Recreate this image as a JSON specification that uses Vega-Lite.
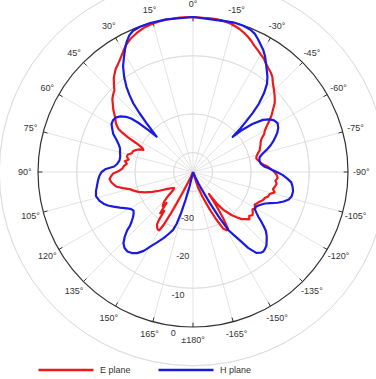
{
  "$schema": "https://vega.github.io/schema/vega-lite/v6.json",
  "width": 376,
  "height": 379,
  "padding": 0,
  "autosize": {"type": "none"},
  "background": "white",
  "config": {"view": {"stroke": null}, "font": "Liberation Sans"},
  "datasets": {
    "rings": [{"dB": -35}, {"dB": -30}, {"dB": -25}, {"dB": -20}, {"dB": -15}, {"dB": -10}, {"dB": -5}],
    "outer": [{"dB": 0}],
    "spokes": [{"angle": 0}, {"angle": 15}, {"angle": 30}, {"angle": 45}, {"angle": 60}, {"angle": 75}, {"angle": 90}, {"angle": 105}, {"angle": 120}, {"angle": 135}, {"angle": 150}, {"angle": 165}, {"angle": 180}, {"angle": -165}, {"angle": -150}, {"angle": -135}, {"angle": -120}, {"angle": -105}, {"angle": -90}, {"angle": -75}, {"angle": -60}, {"angle": -45}, {"angle": -30}, {"angle": -15}],
    "angleLabels": [
      {"angle": 0, "label": "0°"}, {"angle": 15, "label": "15°"}, {"angle": 30, "label": "30°"}, {"angle": 45, "label": "45°"}, {"angle": 60, "label": "60°"}, {"angle": 75, "label": "75°"}, {"angle": 90, "label": "90°"}, {"angle": 105, "label": "105°"}, {"angle": 120, "label": "120°"}, {"angle": 135, "label": "135°"}, {"angle": 150, "label": "150°"}, {"angle": 165, "label": "165°"}, {"angle": 180, "label": "±180°"}, {"angle": -165, "label": "-165°"}, {"angle": -150, "label": "-150°"}, {"angle": -135, "label": "-135°"}, {"angle": -120, "label": "-120°"}, {"angle": -105, "label": "-105°"}, {"angle": -90, "label": "-90°"}, {"angle": -75, "label": "-75°"}, {"angle": -60, "label": "-60°"}, {"angle": -45, "label": "-45°"}, {"angle": -30, "label": "-30°"}, {"angle": -15, "label": "-15°"}
    ],
    "radialLabels": [{"dB": 0, "label": "0"}, {"dB": -10, "label": "-10"}, {"dB": -20, "label": "-20"}, {"dB": -30, "label": "-30"}],
    "pattern": [
      {"plane": "E plane", "angle": -180, "dB": -40},
      {"plane": "E plane", "angle": -172, "dB": -40},
      {"plane": "E plane", "angle": -166, "dB": -39.5},
      {"plane": "E plane", "angle": -162, "dB": -36},
      {"plane": "E plane", "angle": -159, "dB": -33},
      {"plane": "E plane", "angle": -156, "dB": -29.5},
      {"plane": "E plane", "angle": -154, "dB": -26.5},
      {"plane": "E plane", "angle": -152, "dB": -23.5},
      {"plane": "E plane", "angle": -150, "dB": -22.6},
      {"plane": "E plane", "angle": -148.3, "dB": -22.8},
      {"plane": "E plane", "angle": -147, "dB": -25.5},
      {"plane": "E plane", "angle": -146, "dB": -28},
      {"plane": "E plane", "angle": -145, "dB": -30.5},
      {"plane": "E plane", "angle": -144, "dB": -33},
      {"plane": "E plane", "angle": -143, "dB": -30},
      {"plane": "E plane", "angle": -142, "dB": -28.5},
      {"plane": "E plane", "angle": -141, "dB": -27.2},
      {"plane": "E plane", "angle": -140, "dB": -26.6},
      {"plane": "E plane", "angle": -138, "dB": -25},
      {"plane": "E plane", "angle": -136, "dB": -23.8},
      {"plane": "E plane", "angle": -134, "dB": -22.5},
      {"plane": "E plane", "angle": -132, "dB": -21.8},
      {"plane": "E plane", "angle": -130, "dB": -21},
      {"plane": "E plane", "angle": -128, "dB": -21.6},
      {"plane": "E plane", "angle": -126, "dB": -21},
      {"plane": "E plane", "angle": -124, "dB": -21.4},
      {"plane": "E plane", "angle": -122, "dB": -21.9},
      {"plane": "E plane", "angle": -120, "dB": -21.4},
      {"plane": "E plane", "angle": -118, "dB": -22},
      {"plane": "E plane", "angle": -116, "dB": -21.6},
      {"plane": "E plane", "angle": -114, "dB": -21.2},
      {"plane": "E plane", "angle": -112, "dB": -20.6},
      {"plane": "E plane", "angle": -110, "dB": -20.3},
      {"plane": "E plane", "angle": -108, "dB": -19.6},
      {"plane": "E plane", "angle": -106, "dB": -19.4},
      {"plane": "E plane", "angle": -104, "dB": -18.3},
      {"plane": "E plane", "angle": -102, "dB": -18.9},
      {"plane": "E plane", "angle": -100, "dB": -18.5},
      {"plane": "E plane", "angle": -98, "dB": -18.2},
      {"plane": "E plane", "angle": -96, "dB": -18.6},
      {"plane": "E plane", "angle": -94, "dB": -18.1},
      {"plane": "E plane", "angle": -92, "dB": -18.4},
      {"plane": "E plane", "angle": -90, "dB": -19},
      {"plane": "E plane", "angle": -88, "dB": -19.8},
      {"plane": "E plane", "angle": -86, "dB": -20.6},
      {"plane": "E plane", "angle": -84, "dB": -21.8},
      {"plane": "E plane", "angle": -82, "dB": -22.4},
      {"plane": "E plane", "angle": -80, "dB": -22.9},
      {"plane": "E plane", "angle": -78, "dB": -23.3},
      {"plane": "E plane", "angle": -76, "dB": -23.1},
      {"plane": "E plane", "angle": -74, "dB": -22.6},
      {"plane": "E plane", "angle": -72, "dB": -21.9},
      {"plane": "E plane", "angle": -70, "dB": -21.6},
      {"plane": "E plane", "angle": -68, "dB": -21.2},
      {"plane": "E plane", "angle": -66, "dB": -20.9},
      {"plane": "E plane", "angle": -64, "dB": -20.3},
      {"plane": "E plane", "angle": -62, "dB": -19.2},
      {"plane": "E plane", "angle": -60, "dB": -18.6},
      {"plane": "E plane", "angle": -58, "dB": -17.5},
      {"plane": "E plane", "angle": -56, "dB": -16.2},
      {"plane": "E plane", "angle": -54, "dB": -14.9},
      {"plane": "E plane", "angle": -52, "dB": -13.8},
      {"plane": "E plane", "angle": -50, "dB": -12.5},
      {"plane": "E plane", "angle": -48, "dB": -11.6},
      {"plane": "E plane", "angle": -46, "dB": -10.8},
      {"plane": "E plane", "angle": -44, "dB": -10},
      {"plane": "E plane", "angle": -42, "dB": -9.2},
      {"plane": "E plane", "angle": -40, "dB": -8.1},
      {"plane": "E plane", "angle": -38, "dB": -7.4},
      {"plane": "E plane", "angle": -36, "dB": -6.9},
      {"plane": "E plane", "angle": -34, "dB": -6.3},
      {"plane": "E plane", "angle": -32, "dB": -5.5},
      {"plane": "E plane", "angle": -30, "dB": -5},
      {"plane": "E plane", "angle": -28, "dB": -4.4},
      {"plane": "E plane", "angle": -26, "dB": -3.8},
      {"plane": "E plane", "angle": -24, "dB": -3},
      {"plane": "E plane", "angle": -22, "dB": -2.3},
      {"plane": "E plane", "angle": -20, "dB": -1.7},
      {"plane": "E plane", "angle": -18, "dB": -1.2},
      {"plane": "E plane", "angle": -15, "dB": -0.6},
      {"plane": "E plane", "angle": -12, "dB": -0.3},
      {"plane": "E plane", "angle": -8, "dB": -0.1},
      {"plane": "E plane", "angle": 0, "dB": 0},
      {"plane": "E plane", "angle": 5, "dB": 0},
      {"plane": "E plane", "angle": 10, "dB": -0.1},
      {"plane": "E plane", "angle": 13, "dB": -0.2},
      {"plane": "E plane", "angle": 16, "dB": -0.4},
      {"plane": "E plane", "angle": 19, "dB": -0.7},
      {"plane": "E plane", "angle": 22, "dB": -1.3},
      {"plane": "E plane", "angle": 25, "dB": -2},
      {"plane": "E plane", "angle": 28, "dB": -3},
      {"plane": "E plane", "angle": 31, "dB": -4.5},
      {"plane": "E plane", "angle": 34, "dB": -5.8},
      {"plane": "E plane", "angle": 37, "dB": -6.8},
      {"plane": "E plane", "angle": 40, "dB": -8.2},
      {"plane": "E plane", "angle": 42, "dB": -9.5},
      {"plane": "E plane", "angle": 44, "dB": -10.8},
      {"plane": "E plane", "angle": 46, "dB": -11.3},
      {"plane": "E plane", "angle": 48, "dB": -12},
      {"plane": "E plane", "angle": 50, "dB": -13},
      {"plane": "E plane", "angle": 52, "dB": -13.9},
      {"plane": "E plane", "angle": 54, "dB": -15},
      {"plane": "E plane", "angle": 56, "dB": -15.8},
      {"plane": "E plane", "angle": 58, "dB": -16.6},
      {"plane": "E plane", "angle": 60, "dB": -17.8},
      {"plane": "E plane", "angle": 61, "dB": -19.2},
      {"plane": "E plane", "angle": 62, "dB": -21},
      {"plane": "E plane", "angle": 63, "dB": -23.5},
      {"plane": "E plane", "angle": 64.5, "dB": -25.5},
      {"plane": "E plane", "angle": 66, "dB": -26},
      {"plane": "E plane", "angle": 67.5, "dB": -24.8},
      {"plane": "E plane", "angle": 69, "dB": -24.2},
      {"plane": "E plane", "angle": 71, "dB": -23.6},
      {"plane": "E plane", "angle": 73, "dB": -23.5},
      {"plane": "E plane", "angle": 75, "dB": -22.6},
      {"plane": "E plane", "angle": 77, "dB": -22.5},
      {"plane": "E plane", "angle": 79, "dB": -23.1},
      {"plane": "E plane", "angle": 81, "dB": -22.2},
      {"plane": "E plane", "angle": 83, "dB": -22.8},
      {"plane": "E plane", "angle": 85, "dB": -22.1},
      {"plane": "E plane", "angle": 87, "dB": -21.8},
      {"plane": "E plane", "angle": 89, "dB": -21},
      {"plane": "E plane", "angle": 91, "dB": -19.4},
      {"plane": "E plane", "angle": 93, "dB": -18.8},
      {"plane": "E plane", "angle": 95, "dB": -18.4},
      {"plane": "E plane", "angle": 97, "dB": -18.7},
      {"plane": "E plane", "angle": 99, "dB": -19.3},
      {"plane": "E plane", "angle": 101, "dB": -20},
      {"plane": "E plane", "angle": 103, "dB": -21.5},
      {"plane": "E plane", "angle": 105, "dB": -23},
      {"plane": "E plane", "angle": 107, "dB": -23.8},
      {"plane": "E plane", "angle": 110, "dB": -25},
      {"plane": "E plane", "angle": 113, "dB": -26.5},
      {"plane": "E plane", "angle": 116, "dB": -28.3},
      {"plane": "E plane", "angle": 119, "dB": -30},
      {"plane": "E plane", "angle": 122, "dB": -31.5},
      {"plane": "E plane", "angle": 125, "dB": -32.5},
      {"plane": "E plane", "angle": 128, "dB": -33.3},
      {"plane": "E plane", "angle": 130.5, "dB": -33.6},
      {"plane": "E plane", "angle": 132.5, "dB": -33},
      {"plane": "E plane", "angle": 134, "dB": -31},
      {"plane": "E plane", "angle": 135.5, "dB": -29.5},
      {"plane": "E plane", "angle": 137, "dB": -28.8},
      {"plane": "E plane", "angle": 138.5, "dB": -28.2},
      {"plane": "E plane", "angle": 139.5, "dB": -29.5},
      {"plane": "E plane", "angle": 140.5, "dB": -28},
      {"plane": "E plane", "angle": 141.5, "dB": -26.4},
      {"plane": "E plane", "angle": 142.5, "dB": -26.8},
      {"plane": "E plane", "angle": 143.5, "dB": -27.5},
      {"plane": "E plane", "angle": 144.5, "dB": -25},
      {"plane": "E plane", "angle": 145.5, "dB": -23.6},
      {"plane": "E plane", "angle": 147, "dB": -23},
      {"plane": "E plane", "angle": 148.5, "dB": -22.6},
      {"plane": "E plane", "angle": 150, "dB": -22.6},
      {"plane": "E plane", "angle": 151, "dB": -24.5},
      {"plane": "E plane", "angle": 151.8, "dB": -27.5},
      {"plane": "E plane", "angle": 152.5, "dB": -30.5},
      {"plane": "E plane", "angle": 153.5, "dB": -34},
      {"plane": "E plane", "angle": 155, "dB": -37},
      {"plane": "E plane", "angle": 158, "dB": -39},
      {"plane": "E plane", "angle": 162, "dB": -40},
      {"plane": "E plane", "angle": 170, "dB": -40},
      {"plane": "E plane", "angle": 180, "dB": -40},
      {"plane": "H plane", "angle": -180, "dB": -40},
      {"plane": "H plane", "angle": -170, "dB": -40},
      {"plane": "H plane", "angle": -162, "dB": -40},
      {"plane": "H plane", "angle": -158, "dB": -40},
      {"plane": "H plane", "angle": -156, "dB": -38.5},
      {"plane": "H plane", "angle": -154.5, "dB": -36.5},
      {"plane": "H plane", "angle": -153, "dB": -34.5},
      {"plane": "H plane", "angle": -151.5, "dB": -30.8},
      {"plane": "H plane", "angle": -150, "dB": -26.5},
      {"plane": "H plane", "angle": -148.7, "dB": -22.5},
      {"plane": "H plane", "angle": -147, "dB": -20.5},
      {"plane": "H plane", "angle": -145.5, "dB": -18.5},
      {"plane": "H plane", "angle": -144, "dB": -15.8},
      {"plane": "H plane", "angle": -142, "dB": -13.5},
      {"plane": "H plane", "angle": -140, "dB": -12.8},
      {"plane": "H plane", "angle": -138.5, "dB": -12.6},
      {"plane": "H plane", "angle": -137, "dB": -12.8},
      {"plane": "H plane", "angle": -135, "dB": -13.2},
      {"plane": "H plane", "angle": -133, "dB": -14},
      {"plane": "H plane", "angle": -131, "dB": -14.8},
      {"plane": "H plane", "angle": -129, "dB": -15.8},
      {"plane": "H plane", "angle": -127.5, "dB": -17},
      {"plane": "H plane", "angle": -126, "dB": -18.2},
      {"plane": "H plane", "angle": -124.5, "dB": -19.5},
      {"plane": "H plane", "angle": -123, "dB": -20.4},
      {"plane": "H plane", "angle": -121, "dB": -21.4},
      {"plane": "H plane", "angle": -119, "dB": -21.5},
      {"plane": "H plane", "angle": -117, "dB": -21},
      {"plane": "H plane", "angle": -115, "dB": -20.3},
      {"plane": "H plane", "angle": -113.5, "dB": -19.6},
      {"plane": "H plane", "angle": -112, "dB": -18.5},
      {"plane": "H plane", "angle": -110, "dB": -16.8},
      {"plane": "H plane", "angle": -108, "dB": -15.4},
      {"plane": "H plane", "angle": -106, "dB": -14.3},
      {"plane": "H plane", "angle": -104, "dB": -13.8},
      {"plane": "H plane", "angle": -101, "dB": -13.7},
      {"plane": "H plane", "angle": -98.5, "dB": -14},
      {"plane": "H plane", "angle": -96, "dB": -14.5},
      {"plane": "H plane", "angle": -94, "dB": -15.6},
      {"plane": "H plane", "angle": -92, "dB": -16.8},
      {"plane": "H plane", "angle": -90.5, "dB": -18},
      {"plane": "H plane", "angle": -89, "dB": -19.2},
      {"plane": "H plane", "angle": -87, "dB": -20.6},
      {"plane": "H plane", "angle": -85.5, "dB": -21.6},
      {"plane": "H plane", "angle": -83, "dB": -22.4},
      {"plane": "H plane", "angle": -80, "dB": -22.6},
      {"plane": "H plane", "angle": -77.5, "dB": -22.4},
      {"plane": "H plane", "angle": -75, "dB": -21.3},
      {"plane": "H plane", "angle": -73, "dB": -20},
      {"plane": "H plane", "angle": -71, "dB": -18.8},
      {"plane": "H plane", "angle": -69, "dB": -17.8},
      {"plane": "H plane", "angle": -67, "dB": -16.9},
      {"plane": "H plane", "angle": -65, "dB": -16},
      {"plane": "H plane", "angle": -62.5, "dB": -15.2},
      {"plane": "H plane", "angle": -60, "dB": -14.8},
      {"plane": "H plane", "angle": -57.5, "dB": -15.2},
      {"plane": "H plane", "angle": -55.5, "dB": -16},
      {"plane": "H plane", "angle": -53.3, "dB": -17.5},
      {"plane": "H plane", "angle": -51, "dB": -20.3},
      {"plane": "H plane", "angle": -49.5, "dB": -23.2},
      {"plane": "H plane", "angle": -48.4, "dB": -26.3},
      {"plane": "H plane", "angle": -47.5, "dB": -23.5},
      {"plane": "H plane", "angle": -46.5, "dB": -21.3},
      {"plane": "H plane", "angle": -45.3, "dB": -18.3},
      {"plane": "H plane", "angle": -44, "dB": -15.6},
      {"plane": "H plane", "angle": -42, "dB": -12.6},
      {"plane": "H plane", "angle": -40, "dB": -10.3},
      {"plane": "H plane", "angle": -38, "dB": -8.8},
      {"plane": "H plane", "angle": -36, "dB": -7.6},
      {"plane": "H plane", "angle": -34, "dB": -6.3},
      {"plane": "H plane", "angle": -32, "dB": -4.9},
      {"plane": "H plane", "angle": -30, "dB": -3.7},
      {"plane": "H plane", "angle": -28, "dB": -2.8},
      {"plane": "H plane", "angle": -26, "dB": -1.8},
      {"plane": "H plane", "angle": -24, "dB": -0.9},
      {"plane": "H plane", "angle": -22, "dB": -0.4},
      {"plane": "H plane", "angle": -19, "dB": -0.1},
      {"plane": "H plane", "angle": -15, "dB": 0},
      {"plane": "H plane", "angle": 0, "dB": 0},
      {"plane": "H plane", "angle": 10, "dB": 0},
      {"plane": "H plane", "angle": 16, "dB": 0},
      {"plane": "H plane", "angle": 20, "dB": -0.1},
      {"plane": "H plane", "angle": 23, "dB": -0.4},
      {"plane": "H plane", "angle": 25, "dB": -1.1},
      {"plane": "H plane", "angle": 27, "dB": -2.3},
      {"plane": "H plane", "angle": 29, "dB": -3.8},
      {"plane": "H plane", "angle": 31, "dB": -5.4},
      {"plane": "H plane", "angle": 33.5, "dB": -7.3},
      {"plane": "H plane", "angle": 36, "dB": -9.8},
      {"plane": "H plane", "angle": 38, "dB": -12.1},
      {"plane": "H plane", "angle": 39.5, "dB": -14.2},
      {"plane": "H plane", "angle": 41, "dB": -16.5},
      {"plane": "H plane", "angle": 42.3, "dB": -19.5},
      {"plane": "H plane", "angle": 43.6, "dB": -22.6},
      {"plane": "H plane", "angle": 44.7, "dB": -25},
      {"plane": "H plane", "angle": 45.8, "dB": -26.9},
      {"plane": "H plane", "angle": 46.8, "dB": -24.2},
      {"plane": "H plane", "angle": 48, "dB": -21},
      {"plane": "H plane", "angle": 49.2, "dB": -18.9},
      {"plane": "H plane", "angle": 50.5, "dB": -17.6},
      {"plane": "H plane", "angle": 52.5, "dB": -16.4},
      {"plane": "H plane", "angle": 54.5, "dB": -15.7},
      {"plane": "H plane", "angle": 57, "dB": -15.4},
      {"plane": "H plane", "angle": 59.5, "dB": -15.6},
      {"plane": "H plane", "angle": 62, "dB": -16.4},
      {"plane": "H plane", "angle": 64.5, "dB": -17.2},
      {"plane": "H plane", "angle": 67, "dB": -18.5},
      {"plane": "H plane", "angle": 69.5, "dB": -19.5},
      {"plane": "H plane", "angle": 72, "dB": -20.2},
      {"plane": "H plane", "angle": 75, "dB": -20.5},
      {"plane": "H plane", "angle": 78, "dB": -20.8},
      {"plane": "H plane", "angle": 81, "dB": -20.8},
      {"plane": "H plane", "angle": 84, "dB": -20.3},
      {"plane": "H plane", "angle": 86, "dB": -19.6},
      {"plane": "H plane", "angle": 88, "dB": -17.5},
      {"plane": "H plane", "angle": 90, "dB": -16.4},
      {"plane": "H plane", "angle": 92.5, "dB": -15.8},
      {"plane": "H plane", "angle": 95, "dB": -15.4},
      {"plane": "H plane", "angle": 98, "dB": -15},
      {"plane": "H plane", "angle": 101, "dB": -14.5},
      {"plane": "H plane", "angle": 104, "dB": -14.2},
      {"plane": "H plane", "angle": 107, "dB": -14.7},
      {"plane": "H plane", "angle": 109.5, "dB": -15.5},
      {"plane": "H plane", "angle": 111.5, "dB": -16.4},
      {"plane": "H plane", "angle": 113.5, "dB": -17.6},
      {"plane": "H plane", "angle": 116, "dB": -19},
      {"plane": "H plane", "angle": 118.7, "dB": -20.5},
      {"plane": "H plane", "angle": 121, "dB": -21.4},
      {"plane": "H plane", "angle": 123, "dB": -21.7},
      {"plane": "H plane", "angle": 125, "dB": -21.3},
      {"plane": "H plane", "angle": 127, "dB": -20.6},
      {"plane": "H plane", "angle": 129, "dB": -19.6},
      {"plane": "H plane", "angle": 130.5, "dB": -18.6},
      {"plane": "H plane", "angle": 131.5, "dB": -17.3},
      {"plane": "H plane", "angle": 133.5, "dB": -15.7},
      {"plane": "H plane", "angle": 135.7, "dB": -14.3},
      {"plane": "H plane", "angle": 138, "dB": -13.6},
      {"plane": "H plane", "angle": 140.5, "dB": -13.4},
      {"plane": "H plane", "angle": 143, "dB": -13.8},
      {"plane": "H plane", "angle": 145.5, "dB": -14.6},
      {"plane": "H plane", "angle": 148, "dB": -16},
      {"plane": "H plane", "angle": 150.5, "dB": -18},
      {"plane": "H plane", "angle": 153, "dB": -19.6},
      {"plane": "H plane", "angle": 156, "dB": -21.3},
      {"plane": "H plane", "angle": 158.5, "dB": -22.8},
      {"plane": "H plane", "angle": 161, "dB": -24.2},
      {"plane": "H plane", "angle": 162.5, "dB": -26},
      {"plane": "H plane", "angle": 163.8, "dB": -29},
      {"plane": "H plane", "angle": 165, "dB": -32.5},
      {"plane": "H plane", "angle": 166.5, "dB": -36},
      {"plane": "H plane", "angle": 168, "dB": -39},
      {"plane": "H plane", "angle": 170, "dB": -40},
      {"plane": "H plane", "angle": 180, "dB": -40}
    ]
  },
  "layer": [
    {
      "data": {"name": "rings"},
      "transform": [{"calculate": "(datum.dB + 40) / 40", "as": "r"}, {"calculate": "0", "as": "c"}],
      "mark": {"type": "arc", "theta": 0, "theta2": 6.2832, "filled": false, "stroke": "#dcdcdc", "strokeWidth": 0.8},
      "encoding": {
        "x": {"field": "c", "type": "quantitative", "scale": {"domain": [-1.2452, 1.1806], "nice": false, "zero": false}, "axis": null},
        "y": {"field": "c", "type": "quantitative", "scale": {"domain": [-1.3355, 1.1097], "nice": false, "zero": false}, "axis": null},
        "radius": {"field": "r", "type": "quantitative", "scale": {"type": "linear", "domain": [0, 1], "range": [0, 155], "zero": true}}
      }
    },
    {
      "data": {"name": "spokes"},
      "transform": [
        {"calculate": "0", "as": "c"},
        {"calculate": "-sin(datum.angle * PI / 180)", "as": "sx"},
        {"calculate": "cos(datum.angle * PI / 180)", "as": "sy"}
      ],
      "mark": {"type": "rule", "stroke": "#dcdcdc", "strokeWidth": 0.8},
      "encoding": {
        "x": {"field": "c", "type": "quantitative", "scale": {"domain": [-1.2452, 1.1806], "nice": false, "zero": false}, "axis": null},
        "y": {"field": "c", "type": "quantitative", "scale": {"domain": [-1.3355, 1.1097], "nice": false, "zero": false}, "axis": null},
        "x2": {"field": "sx"},
        "y2": {"field": "sy"}
      }
    },
    {
      "data": {"name": "spokes"},
      "transform": [
        {"calculate": "-0.972 * sin(datum.angle * PI / 180)", "as": "tx1"},
        {"calculate": "0.972 * cos(datum.angle * PI / 180)", "as": "ty1"},
        {"calculate": "-sin(datum.angle * PI / 180)", "as": "tx2"},
        {"calculate": "cos(datum.angle * PI / 180)", "as": "ty2"}
      ],
      "mark": {"type": "rule", "stroke": "#333333", "strokeWidth": 1},
      "encoding": {
        "x": {"field": "tx1", "type": "quantitative", "scale": {"domain": [-1.2452, 1.1806], "nice": false, "zero": false}, "axis": null},
        "y": {"field": "ty1", "type": "quantitative", "scale": {"domain": [-1.3355, 1.1097], "nice": false, "zero": false}, "axis": null},
        "x2": {"field": "tx2"},
        "y2": {"field": "ty2"}
      }
    },
    {
      "data": {"name": "outer"},
      "transform": [{"calculate": "(datum.dB + 40) / 40", "as": "r"}, {"calculate": "0", "as": "c"}],
      "mark": {"type": "arc", "theta": 0, "theta2": 6.2832, "filled": false, "stroke": "#333333", "strokeWidth": 1.2},
      "encoding": {
        "x": {"field": "c", "type": "quantitative", "scale": {"domain": [-1.2452, 1.1806], "nice": false, "zero": false}, "axis": null},
        "y": {"field": "c", "type": "quantitative", "scale": {"domain": [-1.3355, 1.1097], "nice": false, "zero": false}, "axis": null},
        "radius": {"field": "r", "type": "quantitative", "scale": {"type": "linear", "domain": [0, 1], "range": [0, 155], "zero": true}}
      }
    },
    {
      "data": {"name": "pattern"},
      "transform": [
        {"calculate": "max(0, (datum.dB + 40) / 40)", "as": "r"},
        {"calculate": "-datum.r * sin(datum.angle * PI / 180)", "as": "px"},
        {"calculate": "datum.r * cos(datum.angle * PI / 180)", "as": "py"}
      ],
      "mark": {"type": "line", "strokeWidth": 2.2, "strokeJoin": "round"},
      "encoding": {
        "x": {"field": "px", "type": "quantitative", "scale": {"domain": [-1.2452, 1.1806], "nice": false, "zero": false}, "axis": null},
        "y": {"field": "py", "type": "quantitative", "scale": {"domain": [-1.3355, 1.1097], "nice": false, "zero": false}, "axis": null},
        "order": {"field": "angle", "type": "quantitative"},
        "color": {
          "field": "plane", "type": "nominal",
          "scale": {"domain": ["E plane", "H plane"], "range": ["#f01818", "#1a1ae0"]},
          "legend": {"title": null, "orient": "none", "legendX": 37, "legendY": 341, "direction": "horizontal", "symbolType": "stroke", "symbolSize": 3025, "symbolStrokeWidth": 2.5, "labelFontSize": 9, "labelColor": "#333333", "labelOffset": 5, "columnPadding": 22}
        }
      }
    },
    {
      "data": {"name": "angleLabels"},
      "transform": [
        {"calculate": "-1.085 * sin(datum.angle * PI / 180)", "as": "lx"},
        {"calculate": "1.085 * cos(datum.angle * PI / 180)", "as": "ly"}
      ],
      "mark": {"type": "text", "fontSize": 9, "color": "#333333", "align": "center", "baseline": "middle"},
      "encoding": {
        "x": {"field": "lx", "type": "quantitative", "scale": {"domain": [-1.2452, 1.1806], "nice": false, "zero": false}, "axis": null},
        "y": {"field": "ly", "type": "quantitative", "scale": {"domain": [-1.3355, 1.1097], "nice": false, "zero": false}, "axis": null},
        "text": {"field": "label"}
      }
    },
    {
      "data": {"name": "radialLabels"},
      "transform": [
        {"calculate": "(datum.dB + 40) / 40 + 0.048", "as": "r"},
        {"calculate": "-datum.r * sin(173 * PI / 180)", "as": "lx"},
        {"calculate": "datum.r * cos(173 * PI / 180)", "as": "ly"}
      ],
      "mark": {"type": "text", "fontSize": 9, "color": "#333333", "align": "center", "baseline": "middle"},
      "encoding": {
        "x": {"field": "lx", "type": "quantitative", "scale": {"domain": [-1.2452, 1.1806], "nice": false, "zero": false}, "axis": null},
        "y": {"field": "ly", "type": "quantitative", "scale": {"domain": [-1.3355, 1.1097], "nice": false, "zero": false}, "axis": null},
        "text": {"field": "label"}
      }
    }
  ]
}
